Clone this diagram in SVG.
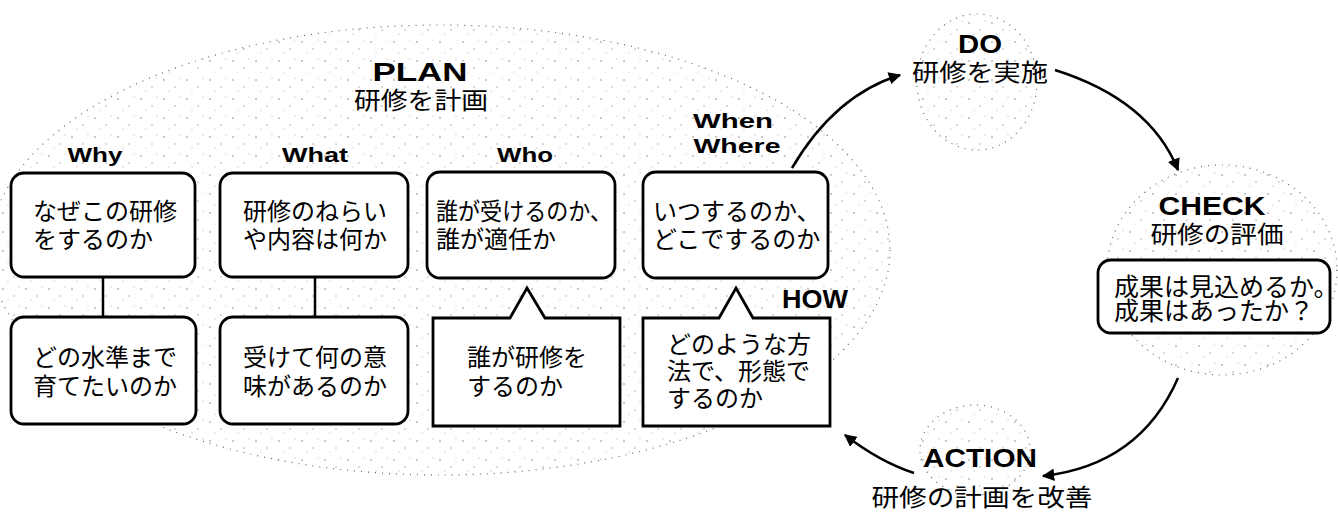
<svg xmlns="http://www.w3.org/2000/svg" width="1338" height="513" viewBox="0 0 1338 513">
<style>
.box{fill:#fff;stroke:#000;stroke-width:2.8}
.jp{font-family:"Noto Sans CJK JP","Noto Sans",sans-serif;font-size:24px;fill:#000}
.sub{font-family:"Noto Sans CJK JP","Noto Sans",sans-serif;font-size:24px;fill:#000}
.lbl{font-family:"Liberation Sans",Arial,sans-serif;font-weight:bold;font-size:21px;fill:#000}
.big{font-family:"Liberation Sans",Arial,sans-serif;font-weight:bold;font-size:25px;fill:#000}
.cloud{fill:url(#stip);stroke:#666;stroke-width:1.2;stroke-dasharray:1 6}
.con{fill:none;stroke:#000;stroke-width:2.5}
</style>
<defs>
<pattern id="stip" width="23" height="19" patternUnits="userSpaceOnUse">
<circle cx="3" cy="4" r="0.8" fill="#888"/>
<circle cx="14" cy="11" r="0.7" fill="#999"/>
<circle cx="19" cy="2" r="0.6" fill="#aaa"/>
<circle cx="8" cy="15" r="0.6" fill="#aaa"/>
</pattern>
<marker id="ah" viewBox="0 0 10 10" refX="9" refY="5" markerWidth="5" markerHeight="5" orient="auto-start-reverse">
<path d="M0,0 L10,5 L0,10 z" fill="#000"/>
</marker>
</defs>
<rect width="1338" height="513" fill="#fff"/>

<g id="clouds">
<ellipse class="cloud" cx="440" cy="250" rx="450" ry="225"/>
<ellipse class="cloud" cx="977" cy="82" rx="60" ry="68"/>
<ellipse class="cloud" cx="1222" cy="270" rx="115" ry="105"/>
<ellipse class="cloud" cx="975" cy="450" rx="55" ry="45"/>
</g>

<g id="connectors">
<line class="con" x1="103" y1="277" x2="103" y2="317"/>
<line class="con" x1="315" y1="277" x2="315" y2="317"/>
<path class="con" d="M792,168 Q835,95 900,75" marker-end="url(#ah)"/>
<path class="con" d="M1055,70 Q1150,100 1178,170" marker-end="url(#ah)"/>
<path class="con" d="M1178,378 Q1140,465 1043,476" marker-end="url(#ah)"/>
<path class="con" d="M914,473 Q880,462 845,435" marker-end="url(#ah)"/>
</g>

<g id="plan">
<text class="big" x="420" y="81" text-anchor="middle" textLength="95" lengthAdjust="spacingAndGlyphs">PLAN</text>
<text class="sub" x="421" y="109" text-anchor="middle" textLength="134" lengthAdjust="spacingAndGlyphs">研修を計画</text>
</g>

<g id="why">
<text class="lbl" x="95" y="162" text-anchor="middle" textLength="55" lengthAdjust="spacingAndGlyphs">Why</text>
<rect class="box" x="11" y="173" width="184" height="104" rx="13"/>
<text class="jp" x="33" y="220">なぜこの研修</text>
<text class="jp" x="33" y="248">をするのか</text>
</g>
<g id="why2">
<rect class="box" x="11" y="317" width="185" height="107" rx="13"/>
<text class="jp" x="33" y="366">どの水準まで</text>
<text class="jp" x="33" y="395">育てたいのか</text>
</g>

<g id="what">
<text class="lbl" x="315" y="162" text-anchor="middle" textLength="66" lengthAdjust="spacingAndGlyphs">What</text>
<rect class="box" x="220" y="173" width="188" height="104" rx="13"/>
<text class="jp" x="243" y="220">研修のねらい</text>
<text class="jp" x="243" y="248">や内容は何か</text>
</g>
<g id="what2">
<rect class="box" x="220" y="317" width="188" height="107" rx="13"/>
<text class="jp" x="243" y="366">受けて何の意</text>
<text class="jp" x="243" y="395">味があるのか</text>
</g>

<g id="who">
<text class="lbl" x="525" y="162" text-anchor="middle" textLength="56" lengthAdjust="spacingAndGlyphs">Who</text>
<rect class="box" x="427" y="172" width="188" height="106" rx="13"/>
<text class="jp" x="436" y="220" textLength="176" lengthAdjust="spacingAndGlyphs">誰が受けるのか、</text>
<text class="jp" x="436" y="248">誰が適任か</text>
</g>
<g id="who2">
<path class="box" d="M433,318 L510,318 L527,288 L545,318 L620,318 L620,426 L433,426 Z"/>
<text class="jp" x="467" y="366">誰が研修を</text>
<text class="jp" x="467" y="395">するのか</text>
</g>

<g id="when">
<text class="lbl" x="733" y="128" text-anchor="middle" textLength="80" lengthAdjust="spacingAndGlyphs">When</text>
<text class="lbl" x="737" y="153" text-anchor="middle" textLength="87" lengthAdjust="spacingAndGlyphs">Where</text>
<rect class="box" x="643" y="172" width="185" height="106" rx="13"/>
<text class="jp" x="653" y="220">いつするのか、</text>
<text class="jp" x="653" y="248">どこでするのか</text>
</g>
<g id="how">
<text class="big" x="815" y="308" text-anchor="middle" textLength="66" lengthAdjust="spacingAndGlyphs">HOW</text>
<path class="box" d="M643,318 L719,318 L736,288 L753,318 L830,318 L830,426 L643,426 Z"/>
<text class="jp" x="667" y="353">どのような方</text>
<text class="jp" x="667" y="380">法で、形態で</text>
<text class="jp" x="667" y="407">するのか</text>
</g>

<g id="do">
<text class="big" x="980" y="53" text-anchor="middle" textLength="44" lengthAdjust="spacingAndGlyphs">DO</text>
<text class="sub" x="980" y="81" text-anchor="middle" textLength="136" lengthAdjust="spacingAndGlyphs">研修を実施</text>
</g>

<g id="check">
<text class="big" x="1212" y="215" text-anchor="middle" textLength="107" lengthAdjust="spacingAndGlyphs">CHECK</text>
<text class="sub" x="1217" y="243" text-anchor="middle" textLength="133" lengthAdjust="spacingAndGlyphs">研修の評価</text>
<rect class="box" x="1098" y="260" width="232" height="73" rx="13"/>
<text class="jp" x="1114" y="296" style="font-size:25px">成果は見込めるか。</text>
<text class="jp" x="1114" y="320" style="font-size:25px">成果はあったか？</text>
</g>

<g id="action">
<text class="big" x="980" y="467" text-anchor="middle" textLength="114" lengthAdjust="spacingAndGlyphs">ACTION</text>
<text class="sub" x="982" y="506" text-anchor="middle" textLength="221" lengthAdjust="spacingAndGlyphs">研修の計画を改善</text>
</g>
</svg>
